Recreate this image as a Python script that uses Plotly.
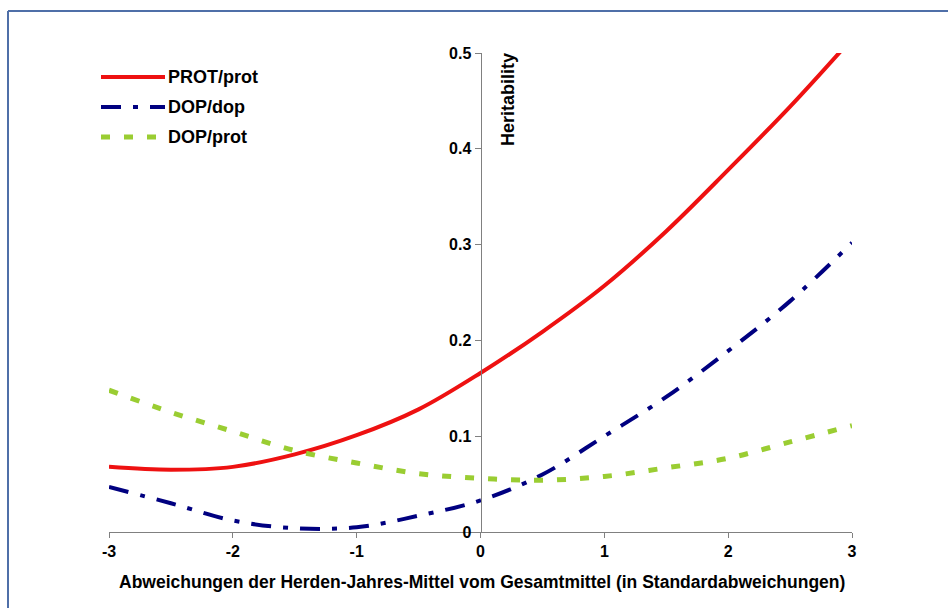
import plotly.graph_objects as go

# ---- data ----
x_vals = [-3, -2.5, -2, -1.5, -1, -0.5, 0, 0.5, 1, 1.5, 2, 2.5, 3]
prot_prot = [0.068, 0.065, 0.068, 0.081, 0.101, 0.128, 0.166, 0.209, 0.257, 0.314, 0.378, 0.444, 0.515]
dop_dop = [0.047, 0.030, 0.012, 0.004, 0.005, 0.017, 0.033, 0.060, 0.100, 0.141, 0.189, 0.241, 0.302]
dop_prot = [0.148, 0.125, 0.105, 0.085, 0.072, 0.061, 0.056, 0.054, 0.058, 0.067, 0.077, 0.094, 0.111]
series_names = ["PROT/prot", "DOP/dop", "DOP/prot"]
x_ticks = [-3, -2, -1, 0, 1, 2, 3]
y_ticks = [0, 0.1, 0.2, 0.3, 0.4, 0.5]
y_tick_text = ["0", "0.1", "0.2", "0.3", "0.4", "0.5"]

colors = ["#EE1111", "#000080", "#9ACD32"]
dashes = ["solid", "20px,12px,5px,12px", "9px,14px"]
widths = [4, 4, 5]

FONT = "Liberation Sans, Arial, sans-serif"
GREY = "#808080"

fig = go.Figure()
for name, ys, c, d, w in zip(series_names, [prot_prot, dop_dop, dop_prot], colors, dashes, widths):
    fig.add_trace(go.Scatter(x=x_vals, y=ys, mode="lines", name=name,
                             line=dict(color=c, dash=d, width=w, shape="spline", smoothing=1.0),
                             showlegend=False, hoverinfo="skip"))

L, R, T, B = 109, 96, 53, 76
W, H = 948, 608
pw, ph = W - L - R, H - T - B

def px_x(p):
    return (p - L) / pw

def px_y(p):
    return (H - B - p) / ph

shapes = []
annotations = []
# legend (drawn manually to match long sample lines)
rows_y = [77, 107, 137]
for name, c, d, w, ry in zip(series_names, colors, dashes, widths, rows_y):
    shapes.append(dict(type="line", xref="paper", yref="paper",
                       x0=px_x(101), x1=px_x(165), y0=px_y(ry), y1=px_y(ry),
                       line=dict(color=c, dash=d, width=w)))
    annotations.append(dict(xref="paper", yref="paper", x=px_x(166), y=px_y(ry),
                            xanchor="left", yanchor="middle", text=name, showarrow=False,
                            font=dict(family=FONT, size=18, color="black", weight="bold")))

# frame (left and top edges)
frame_col = "#4F6FA8"
shapes.append(dict(type="line", xref="paper", yref="paper", x0=px_x(8), x1=px_x(8),
                   y0=px_y(11), y1=px_y(640), line=dict(color=frame_col, width=2)))
shapes.append(dict(type="line", xref="paper", yref="paper", x0=px_x(8), x1=px_x(980),
                   y0=px_y(11), y1=px_y(11), line=dict(color=frame_col, width=2)))

# axis titles
annotations.append(dict(xref="x", yref="y", x=0, y=0.4515, xshift=28, textangle=-90,
                        text="Heritability", showarrow=False, xanchor="center", yanchor="middle",
                        font=dict(family=FONT, size=18, color="black", weight="bold")))
annotations.append(dict(xref="paper", yref="paper", x=0.502, y=px_y(582),
                        text="Abweichungen der Herden-Jahres-Mittel vom Gesamtmittel (in Standardabweichungen)",
                        showarrow=False, xanchor="center", yanchor="middle",
                        font=dict(family=FONT, size=17.5, color="black", weight="bold")))

fig.update_layout(
    width=W, height=H,
    margin=dict(l=L, r=R, t=T, b=B),
    paper_bgcolor="white", plot_bgcolor="white",
    shapes=shapes, annotations=annotations,
    font=dict(family=FONT, size=16, color="black"),
    xaxis=dict(range=[-3, 3], tickvals=x_ticks, ticktext=[str(v) for v in x_ticks],
               showline=True, linecolor=GREY, linewidth=1, ticks="outside", ticklen=5,
               tickcolor=GREY, showgrid=False, zeroline=False,
               tickfont=dict(family=FONT, size=16, color="black", weight="bold")),
    yaxis=dict(range=[0, 0.5], tickvals=y_ticks, ticktext=y_tick_text,
               anchor="free", position=0.5,
               showline=True, linecolor=GREY, linewidth=1, ticks="outside", ticklen=6,
               tickcolor=GREY, showgrid=False, zeroline=False,
               tickfont=dict(family=FONT, size=16, color="black", weight="bold")),
)

fig.write_html("out.html", config={"displayModeBar": False},
               post_script="document.body.style.margin='0';document.body.style.overflow='hidden';")
